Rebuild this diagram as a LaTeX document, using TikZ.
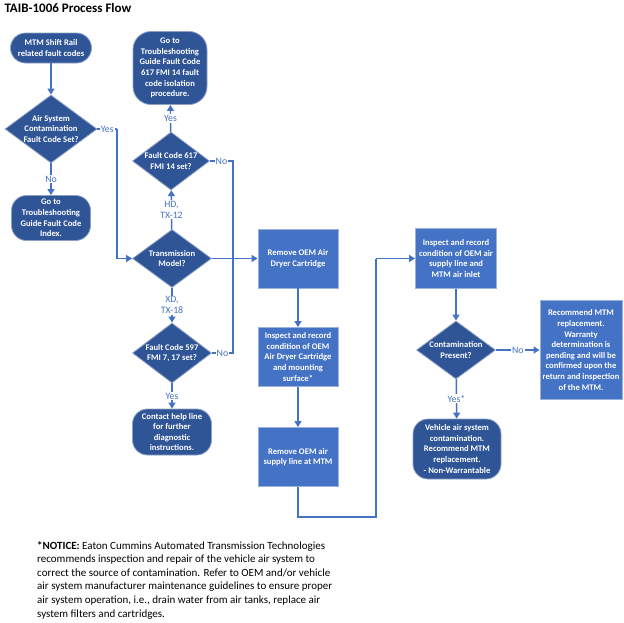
\documentclass[tikz,border=0pt]{standalone}
\usepackage{fontspec}
\setmainfont{Carlito}
\usetikzlibrary{shapes.geometric,arrows.meta}
\definecolor{flowblue}{HTML}{4472C4}
\definecolor{deepblue}{HTML}{2F5597}
\tikzset{
    procbox/.style={rectangle,fill=flowblue,draw=flowblue!55!white,line width=0.8pt,
        text=white,align=center,font=\fontsize{8.6}{10.6}\selectfont\bfseries,
        minimum width=80pt,minimum height=59pt,inner sep=1pt},
    termbox/.style={rectangle,rounded corners=15pt,fill=deepblue,draw=deepblue!55!white,
        line width=0.8pt,text=white,align=center,font=\fontsize{8.6}{10.6}\selectfont\bfseries,
        inner sep=1pt},
    decision/.style={diamond,fill=deepblue,draw=deepblue!55!white,line width=0.8pt,
        inner sep=0pt,minimum width=79pt,minimum height=58pt},
    dtext/.style={text=white,align=center,font=\fontsize{8.6}{10.6}\selectfont\bfseries,inner sep=0pt},
    flow/.style={draw=flowblue,line width=1.4pt,-{Triangle[width=7pt,length=6pt]}},
    link/.style={draw=flowblue,line width=1.4pt},
    lbl/.style={fill=white,text=flowblue,inner sep=1pt,align=center,
        font=\fontsize{9.8}{11}\selectfont}
}
\begin{document}
\begin{tikzpicture}[x=1pt,y=-1pt]
    \useasboundingbox (0,0) rectangle (624,622);
    \node[anchor=west,font=\fontsize{13}{15}\selectfont\bfseries] (title) at (1,8) {TAIB-1006 Process Flow};

    %% Left column
    \node[termbox,minimum width=81pt,minimum height=30pt] (start) at (51,48) {MTM Shift Rail\\related fault codes};
    \node[decision,minimum width=92pt,minimum height=68pt,
        label={[dtext]center:Air System\\Contamination\\Fault Code Set?}] (aircheck) at (51,129) {};
    \node[termbox,minimum width=79pt,minimum height=45pt] (faultindex) at (51,218) {Go to\\Troubleshooting\\Guide Fault Code\\Index.};

    %% Middle column
    \node[termbox,rounded corners=18pt,minimum width=74pt,minimum height=73pt] (iso617) at (170,68)
        {Go to\\Troubleshooting\\Guide Fault Code\\617 FMI 14 fault\\code isolation\\procedure.};
    \node[decision,minimum width=77pt,label={[dtext]center:Fault Code 617\\FMI 14 set?}] (fc617) at (171,161) {};
    \node[decision,label={[dtext]center:Transmission\\Model?}] (model) at (172,258.5) {};
    \node[decision,minimum height=60pt,label={[dtext]center:Fault Code 597\\FMI 7, 17 set?}] (fc597) at (172,353) {};
    \node[termbox,minimum width=79pt,minimum height=46pt] (helpline) at (172,432) {Contact help line\\for further\\diagnostic\\instructions.};

    %% Removal steps
    \node[procbox] (dryer) at (298,258.5) {Remove OEM Air\\Dryer Cartridge};
    \node[procbox] (inspdryer) at (298,357) {Inspect and record\\condition of OEM\\Air Dryer Cartridge\\and mounting\\surface*};
    \node[procbox] (supply) at (298,457) {Remove OEM air\\supply line at MTM};

    %% Right column
    \node[procbox,minimum width=81pt,minimum height=60pt] (inspline) at (456,258.5) {Inspect and record\\condition of OEM air\\supply line and\\MTM air inlet};
    \node[decision,label={[dtext]center:Contamination\\Present?}] (contam) at (456,350) {};
    \node[procbox,minimum width=82pt,minimum height=99pt] (warranty) at (581,350)
        {Recommend MTM\\replacement.\\Warranty\\determination is\\pending and will be\\confirmed upon the\\return and inspection\\of the MTM.};
    \node[termbox,minimum width=88pt,minimum height=60pt] (vehicle) at (457,449)
        {Vehicle air system\\contamination.\\Recommend MTM\\replacement.\\- Non-Warrantable};

    %% Bend points
    \coordinate (yesbend) at (117,129);
    \coordinate (nobend617) at (233,161);
    \coordinate (nobend597) at (233,353);
    \coordinate (joint) at (233,258.5);
    \coordinate (lowbend) at (298,517);
    \coordinate (upbend) at (376,258.5);

    %% Connectors
    \draw[flow] (start) -- (aircheck);
    \draw[flow] (aircheck) -- node[lbl] {No} (faultindex);
    \draw[link] (aircheck) -- node[lbl] {Yes} (yesbend);
    \draw[flow] (yesbend) |- (model);
    \draw[flow] (model) -- node[lbl] {HD,\\TX-12} (fc617);
    \draw[flow] (fc617) -- node[lbl] {Yes} (iso617);
    \draw[link] (fc617) -- node[lbl] {No} (nobend617) -- (joint);
    \draw[flow] (model) -- node[lbl] {XD,\\TX-18} (fc597);
    \draw[flow] (fc597) -- node[lbl] {Yes} (helpline);
    \draw[link] (fc597) -- node[lbl] {No} (nobend597) -- (joint);
    \draw[flow] (model) -- (dryer);
    \draw[flow] (dryer) -- (inspdryer);
    \draw[flow] (inspdryer) -- (supply);
    \draw[link] (supply) -- (lowbend) -| (upbend);
    \draw[flow] (upbend) -- (inspline);
    \draw[flow] (inspline) -- (contam);
    \draw[flow] (contam) -- node[lbl] {No} (warranty);
    \draw[flow] (contam) -- node[lbl] {Yes*} (vehicle);

    %% Notice
    \node[anchor=north west,align=left,inner sep=0pt,font=\fontsize{11}{13.6}\selectfont] (notice) at (37,541)
        {\textbf{*NOTICE:} Eaton Cummins Automated Transmission Technologies\\
        recommends inspection and repair of the vehicle air system to\\
        correct the source of contamination. Refer to OEM and/or vehicle\\
        air system manufacturer maintenance guidelines to ensure proper\\
        air system operation, i.e., drain water from air tanks, replace air\\
        system filters and cartridges.};
\end{tikzpicture}
\end{document}
